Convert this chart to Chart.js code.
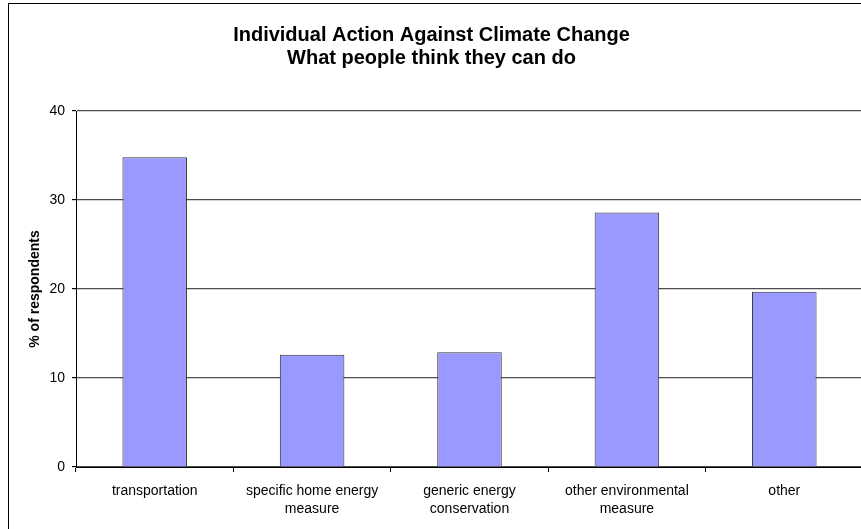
<!DOCTYPE html>
<html lang="en">
  <head>
    <meta charset="utf-8" />
    <script src="https://cdn.jsdelivr.net/npm/chart.js@4.4.0/dist/chart.umd.min.js"></script>
    <title>Individual Action Against Climate Change</title>
    <style>
      html, body { margin: 0; padding: 0; overflow: hidden; background: #fff; }
      #frame { position: absolute; left: 8px; top: 3px; width: 900px; height: 600px; border: 1px solid #000; }
      #chart { position: absolute; left: 0; top: 0; }
    </style>
  </head>
  <body>
    <div id="frame"></div>
    <canvas id="chart" width="880" height="529"></canvas>
    <script>
      const categories = [
        ['transportation'],
        ['specific home energy', 'measure'],
        ['generic energy', 'conservation'],
        ['other environmental', 'measure'],
        ['other']
      ];
      const respondents = [34.8, 12.6, 12.9, 28.6, 19.7];
      const yTicks = [0, 10, 20, 30, 40];

      const fontFamily = "'Liberation Sans', Arial, sans-serif";

      const ctx = document.getElementById('chart').getContext('2d');
      const data = {
        labels: categories,
        datasets: [
          {
            label: '% of respondents',
            data: respondents,
            backgroundColor: '#9999ff',
            borderColor: '#333333',
            borderWidth: 1,
            barPercentage: 0.41,
            categoryPercentage: 1
          }
        ]
      };

      new Chart(ctx, {
        type: 'bar',
        data,
        options: {
          responsive: false,
          animation: false,
          layout: { padding: { left: 0, right: 17, top: 0, bottom: 0 } },
          plugins: {
            legend: { display: false },
            tooltip: { enabled: false },
            title: {
              display: true,
              text: ['Individual Action Against Climate Change', 'What people think they can do'],
              color: '#000',
              font: { family: fontFamily, size: 20, weight: 'bold', lineHeight: 1.15 },
              padding: { top: 24, bottom: 41 }
            }
          },
          scales: {
            x: {
              offset: true,
              afterFit: function(scale) { scale.height = 62; },
              grid: {
                offset: true,
                drawOnChartArea: false,
                tickLength: 5,
                tickColor: '#000'
              },
              border: { color: '#000', width: 1 },
              ticks: {
                color: '#000',
                padding: 10,
                maxRotation: 0,
                autoSkip: false,
                font: { family: fontFamily, size: 14, lineHeight: 1.29 }
              }
            },
            y: {
              min: 0,
              max: 40,
              afterFit: function(scale) { scale.width = 76; },
              afterBuildTicks: function(scale) {
                scale.ticks = yTicks.map(v => ({ value: v }));
              },
              grid: {
                color: '#4d4d4d',
                lineWidth: 1.2,
                tickLength: 4,
                tickColor: '#000'
              },
              border: { color: '#000', width: 1 },
              ticks: {
                color: '#000',
                padding: 7,
                font: { family: fontFamily, size: 14 }
              },
              title: {
                display: true,
                text: '% of respondents',
                color: '#000',
                font: { family: fontFamily, size: 14, weight: 'bold' },
                padding: { top: 27, bottom: 0 }
              }
            }
          }
        }
      });
    </script>
  </body>
</html>
